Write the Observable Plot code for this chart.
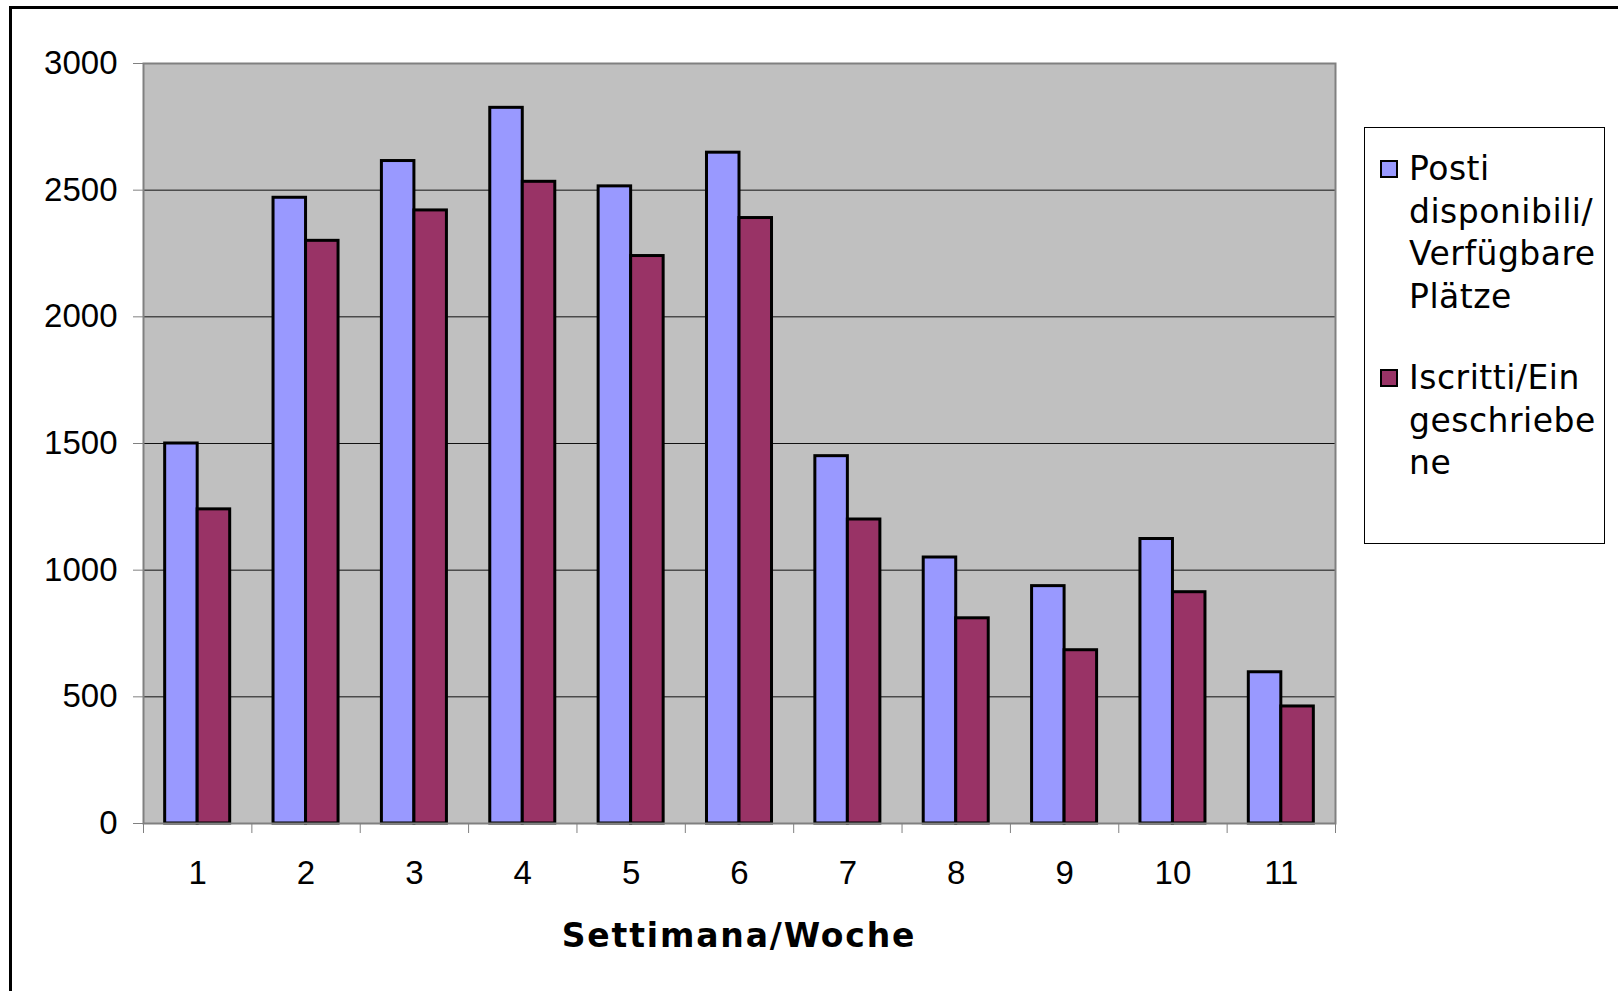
<!DOCTYPE html>
<html>
<head>
<meta charset="utf-8">
<script src="https://cdn.jsdelivr.net/npm/d3@7"></script>
<script src="https://cdn.jsdelivr.net/npm/@observablehq/plot@0.6"></script>
<style>
  html, body { margin: 0; padding: 0; background: #fff; overflow: hidden; }
  #wrap { position: relative; width: 1618px; height: 991px; overflow: hidden; }
  #outer { position: absolute; left: 9px; top: 6px; width: 1700px; height: 1100px; border: 3px solid #000; box-sizing: border-box; }
  #chart { position: absolute; left: 0; top: 0; }
  #xtitle { position: absolute; left: 143px; width: 1192px; top: 914px; text-align: center;
    font-family: "DejaVu Sans"; font-weight: bold; font-size: 33px; letter-spacing: 1.85px; line-height: 44px; }
  #legend { position: absolute; left: 1364px; top: 127px; width: 241px; height: 417px; box-sizing: border-box;
    border: 1.5px solid #000; background: #fff; font-family: "DejaVu Sans"; font-size: 33px; letter-spacing: 0.5px; }
  .entry { position: absolute; left: 44px; line-height: 42.5px; white-space: nowrap; }
  .sw { position: absolute; left: 15px; width: 18px; height: 18px; box-sizing: border-box; border: 2.5px solid #000; }
</style>
</head>
<body>
<div id="wrap">
  <div id="outer"></div>
  <div id="chart"></div>
  <div id="xtitle"></div>
  <div id="legend"></div>
</div>
<script>
// ---- data ----
const weeks = [1, 2, 3, 4, 5, 6, 7, 8, 9, 10, 11];
const postiDisponibili = [1500, 2470, 2615, 2825, 2515, 2648, 1450, 1050, 937, 1123, 597];
const iscritti = [1240, 2300, 2420, 2533, 2240, 2390, 1200, 810, 684, 913, 462];
const seriesNames = ["Posti disponibili/Verfügbare Plätze", "Iscritti/Eingeschriebene"];
const legendLines = [["Posti", "disponibili/", "Verfügbare", "Plätze"], ["Iscritti/Ein", "geschriebe", "ne"]];
const seriesColors = ["#9999FF", "#993366"];
const yTicks = [0, 500, 1000, 1500, 2000, 2500, 3000];
const xTitle = "Settimana/Woche";

// ---- build table ----
const rows = [];
weeks.forEach((w, i) => {
  rows.push({week: w, series: 0, value: postiDisponibili[i]});
  rows.push({week: w, series: 1, value: iscritti[i]});
});
const half = 0.3;
const bounds = d3.range(weeks.length + 1).map(i => weeks[0] - 0.5 + i);

const chart = Plot.plot({
  width: 1618,
  height: 991,
  marginTop: 63,
  marginBottom: 168,
  marginLeft: 143,
  marginRight: 283,
  style: {fontFamily: "Liberation Sans", fontSize: "33px", background: "transparent", color: "#000"},
  x: {domain: [weeks[0] - 0.5, weeks[weeks.length - 1] + 0.5]},
  y: {domain: [0, 3000]},
  marks: [
    Plot.frame({fill: "#c0c0c0", stroke: null}),
    Plot.ruleY(yTicks.filter(v => v > 0 && v < 3000), {stroke: "#111", strokeWidth: 1}),
    Plot.rect(rows, {
      x1: d => d.week - (d.series === 0 ? half : 0),
      x2: d => d.week + (d.series === 0 ? 0 : half),
      y1: 0,
      y2: "value",
      fill: d => seriesColors[d.series],
      stroke: "#000",
      strokeWidth: 3
    }),
    Plot.axisY(yTicks, {tickSize: 10, tickPadding: 16, stroke: "#808080", fill: "#000", fontSize: 33, tickFormat: d3.format("d"), label: null}),
    Plot.axisX(weeks, {tickSize: 0, tickPadding: 37, fill: "#000", fontSize: 33, tickFormat: d3.format("d"), label: null}),
    Plot.axisX(bounds, {tickSize: 10, tickFormat: () => "", stroke: "#808080", label: null}),
    Plot.frame({stroke: "#808080", strokeWidth: 2})
  ]
});
document.getElementById("chart").appendChild(chart);

document.getElementById("xtitle").textContent = xTitle;

// legend
const legend = document.getElementById("legend");
const entryTops = [20, 229];
legendLines.forEach((lines, i) => {
  const sw = document.createElement("div");
  sw.className = "sw";
  sw.style.top = (entryTops[i] + 12) + "px";
  sw.style.background = seriesColors[i];
  sw.title = seriesNames[i];
  legend.appendChild(sw);
  const e = document.createElement("div");
  e.className = "entry";
  e.style.top = entryTops[i] + "px";
  e.innerHTML = lines.join("<br>");
  legend.appendChild(e);
});
</script>
</body>
</html>
